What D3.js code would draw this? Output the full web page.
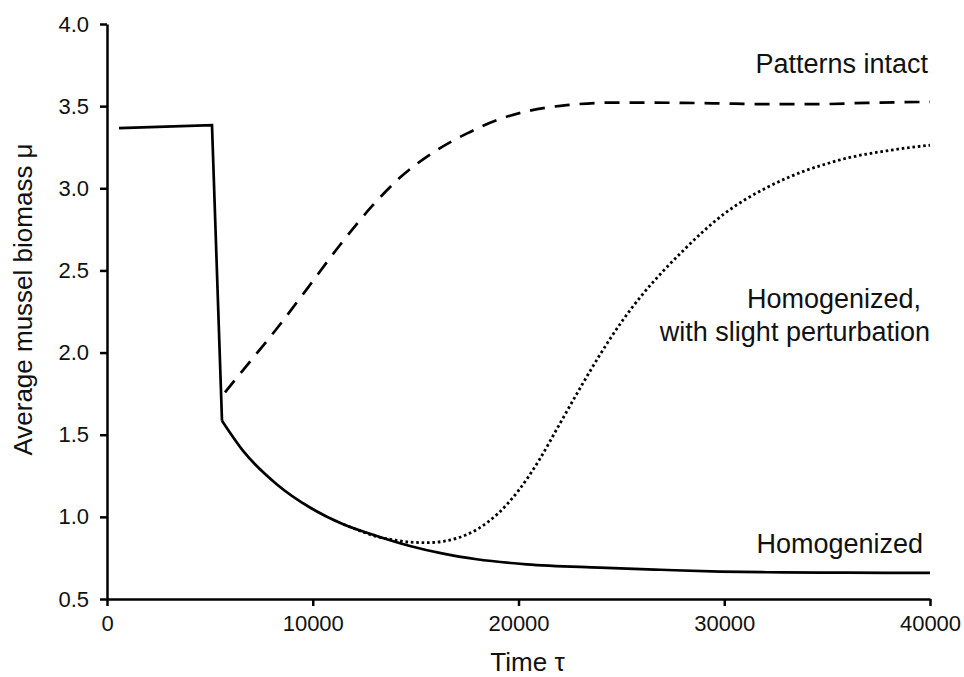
<!DOCTYPE html>
<html lang="en">
<head>
    <meta charset="UTF-8">
    <title>mussel biomass</title>
    <script src="https://d3js.org/d3.v7.min.js"></script>
    <style>
        body {
            margin: 0;
            background-color: #ffffff;
            font-family: "Liberation Sans", Arial, sans-serif;
        }
        .axis text {
            font-size: 22px;
            fill: #111;
        }
        .axis path, .axis line {
            stroke: #000;
            stroke-width: 2.5;
        }
        .note {
            font-size: 27px;
            fill: #111;
        }
        .title {
            font-size: 26px;
            fill: #111;
        }
    </style>
</head>
<body>
    <script>
        const width = 964;
        const height = 677;
        const marginTop = 24;
        const marginRight = 34;
        const marginBottom = 78;
        const marginLeft = 107;

        const xTicks = [0, 10000, 20000, 30000, 40000];
        const yTicks = [0.5, 1.0, 1.5, 2.0, 2.5, 3.0, 3.5, 4.0];

        // solid line: plateau, drop, then decay
        const homogenizedTime = [583, 5103, 5589, 6625, 8247, 9866, 11485, 13107, 14726, 16344, 17968, 20397, 23960, 26900, 29790, 32850, 36000, 40000];
        const homogenizedMu = [3.366, 3.384, 1.585, 1.40, 1.199, 1.057, 0.955, 0.884, 0.823, 0.776, 0.742, 0.711, 0.691, 0.678, 0.667, 0.662, 0.660, 0.659];

        // dashed line
        const intactTime = [5735, 6625, 8247, 9705, 11324, 12943, 14240, 15858, 17478, 19100, 20460, 22340, 24770, 28000, 30500, 32060, 34490, 36920, 40000];
        const intactMu = [1.758, 1.895, 2.145, 2.385, 2.655, 2.900, 3.065, 3.218, 3.333, 3.422, 3.470, 3.506, 3.522, 3.520, 3.515, 3.512, 3.512, 3.520, 3.526];

        // dotted line
        const perturbedTime = [11485, 12300, 13107, 13915, 14726, 15537, 16344, 17000, 18000, 19000, 20000, 21000, 22000, 23000, 24000, 25000, 26000, 27000, 28000, 29000, 30000, 31000, 32000, 33000, 34000, 35000, 36000, 37000, 38000, 39000, 40000];
        const perturbedMu = [0.955, 0.915, 0.880, 0.860, 0.846, 0.843, 0.851, 0.870, 0.925, 1.020, 1.160, 1.345, 1.565, 1.785, 1.995, 2.185, 2.350, 2.492, 2.620, 2.740, 2.845, 2.930, 3.000, 3.060, 3.110, 3.150, 3.185, 3.210, 3.230, 3.248, 3.262];

        const zip = (t, m) => t.map((d, i) => [d, m[i]]);

        const svg = d3.select("body").append("svg")
            .attr("width", width)
            .attr("height", height);

        const x = d3.scaleLinear()
            .domain([0, 40000])
            .range([marginLeft, width - marginRight]);

        const y = d3.scaleLinear()
            .domain([0.5, 4.0])
            .range([height - marginBottom, marginTop]);

        const xAxis = svg.append("g")
            .attr("class", "axis")
            .attr("transform", `translate(0,${y(0.5)})`)
            .call(d3.axisBottom(x).tickValues(xTicks).tickFormat(d3.format("d"))
                .tickSize(7).tickSizeOuter(0).tickPadding(9));

        const yAxis = svg.append("g")
            .attr("class", "axis")
            .attr("transform", `translate(${x(0)},0)`)
            .call(d3.axisLeft(y).tickValues(yTicks).tickFormat(d3.format(".1f"))
                .tickSize(7).tickSizeOuter(0).tickPadding(11));

        svg.selectAll(".axis .tick text").attr("font-family", "Liberation Sans, Arial, sans-serif");

        const lineLinear = d3.line().x(d => x(d[0])).y(d => y(d[1]));
        const lineSmooth = d3.line().x(d => x(d[0])).y(d => y(d[1])).curve(d3.curveMonotoneX);

        const homog = zip(homogenizedTime, homogenizedMu);

        svg.append("path")
            .attr("d", lineLinear(homog.slice(0, 3)))
            .attr("fill", "none")
            .attr("stroke", "#000")
            .attr("stroke-width", 2.7)
            .attr("stroke-linejoin", "miter");

        svg.append("path")
            .attr("d", lineSmooth(homog.slice(2)))
            .attr("fill", "none")
            .attr("stroke", "#000")
            .attr("stroke-width", 2.7);

        svg.append("path")
            .attr("d", lineSmooth(zip(intactTime, intactMu)))
            .attr("fill", "none")
            .attr("stroke", "#000")
            .attr("stroke-width", 2.7)
            .attr("stroke-dasharray", "15,10");

        svg.append("path")
            .attr("d", lineSmooth(zip(perturbedTime, perturbedMu)))
            .attr("fill", "none")
            .attr("stroke", "#000")
            .attr("stroke-width", 2.8)
            .attr("stroke-dasharray", "2.6,2.8");

        // annotations
        svg.append("text").attr("class", "note")
            .attr("x", 928).attr("y", 73)
            .attr("text-anchor", "end")
            .text("Patterns intact");

        svg.append("text").attr("class", "note")
            .attr("x", 921).attr("y", 308)
            .attr("text-anchor", "end")
            .text("Homogenized,");

        svg.append("text").attr("class", "note")
            .attr("x", 930).attr("y", 341)
            .attr("text-anchor", "end")
            .text("with slight perturbation");

        svg.append("text").attr("class", "note")
            .attr("x", 923).attr("y", 553)
            .attr("text-anchor", "end")
            .text("Homogenized");

        // axis titles
        svg.append("text").attr("class", "title")
            .attr("x", x(20000) + 9).attr("y", 671)
            .attr("text-anchor", "middle")
            .text("Time τ");

        svg.append("text").attr("class", "title")
            .attr("transform", `translate(32,${(y(0.5) + y(4.0)) / 2 - 12}) rotate(-90)`)
            .attr("text-anchor", "middle")
            .text("Average mussel biomass μ");
    </script>
</body>
</html>
